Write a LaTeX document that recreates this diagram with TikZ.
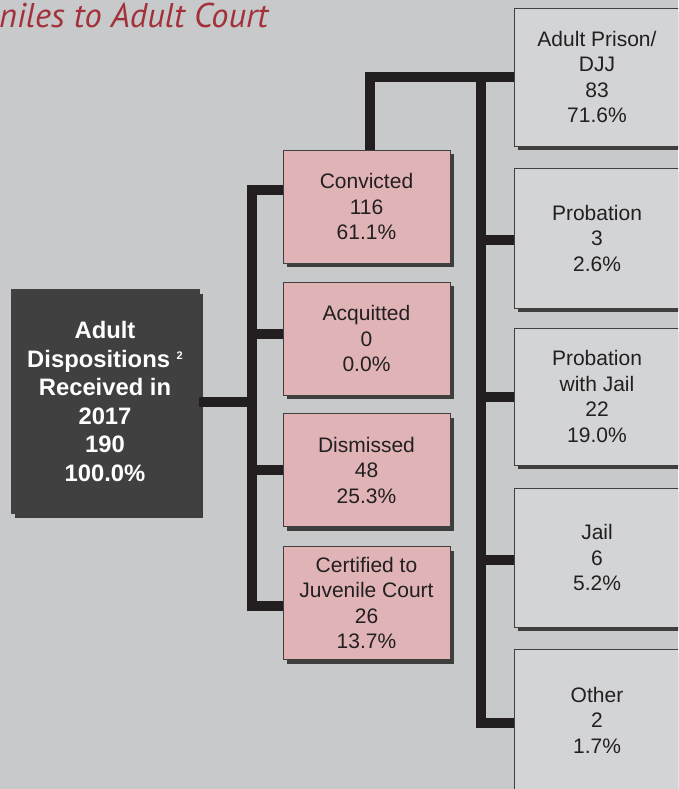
\documentclass[tikz,border=0pt]{standalone}
\usepackage{fontspec}
\setmainfont{Liberation Sans}
\newfontfamily\headfont{PT Sans}
\usetikzlibrary{shadows}
\definecolor{bggray}{HTML}{C8C9CB}
\definecolor{boxgray}{HTML}{D3D4D6}
\definecolor{boxpink}{HTML}{E0B4B6}
\definecolor{boxdark}{HTML}{404040}
\definecolor{barblack}{HTML}{231F20}
\definecolor{headred}{HTML}{A3313A}
\begin{document}
\begin{tikzpicture}[x=1pt,y=-1pt,
  box/.style={draw=black!75,line width=0.9pt,align=center,inner sep=0pt,text=barblack,
    drop shadow={shadow xshift=4pt,shadow yshift=-4pt,fill=black!85,opacity=0.85},
    font=\fontsize{21}{25.5}\selectfont},
  pinkbox/.style={box,fill=boxpink,minimum width=167pt,minimum height=113pt},
  graybox/.style={box,fill=boxgray,minimum width=166pt,minimum height=139pt},
  bar/.style={barblack,line width=10pt}]
 	\useasboundingbox (0,0) rectangle (678,789);
 	\fill [bggray] (0,0) rectangle (678,789);
 	\clip (0,0) rectangle (678,789);
 	% heading, cut at the left edge
 	\node [anchor=base west,inner sep=0pt,text=headred,font=\headfont\itshape\fontsize{34.3}{34.3}\selectfont] (head) at (-1,28) {niles to Adult Court};
 	% left column
 	\node [box,fill=boxdark,text=white,font=\bfseries\fontsize{23.8}{28.5}\selectfont,minimum width=188pt,minimum height=224pt] (disp) at (105,401.5) {Adult\\Dispositions {\fontsize{11}{11}\selectfont\raisebox{8pt}{2}}\\Received in\\2017\\190\\100.0\%};
 	% middle column
 	\node [pinkbox] (conv) at (366.5,206.5) {Convicted\\116\\61.1\%};
 	\node [pinkbox] (acq) at (366.5,338.5) {Acquitted\\0\\0.0\%};
 	\node [pinkbox] (dism) at (366.5,470) {Dismissed\\48\\25.3\%};
 	\node [pinkbox] (cert) at (366.5,603) {Certified to\\Juvenile Court\\26\\13.7\%};
 	% right column
 	\node [graybox,minimum height=138pt] (prison) at (597,77) {Adult Prison/\\DJJ\\83\\71.6\%};
 	\node [graybox,minimum height=140pt] (prob) at (597,238) {Probation\\3\\2.6\%};
 	\node [graybox,minimum height=137pt] (pwj) at (597,396.5) {Probation\\with Jail\\22\\19.0\%};
 	\node [graybox] (jail) at (597,557.5) {Jail\\6\\5.2\%};
 	\node [graybox,minimum height=142pt] (other) at (597,720) {Other\\2\\1.7\%};
 	% connectors
 	\coordinate (lbusB) at (252,606);
 	\coordinate (rbusT) at (481,77);
 	\coordinate (rbusB) at (481,723);
 	\draw [bar] (disp.east) -- (disp.east -| lbusB);
 	\draw [bar] ([yshift=16.5pt]conv.west) -| (lbusB) -- (lbusB -| cert.west);
 	\draw [bar] ([yshift=4.5pt]acq.west) -| (lbusB);
 	\draw [bar] (dism.west) -| (lbusB);
 	\draw [bar] ([xshift=3.5pt]conv.north) |- (prison.west);
 	\draw [bar] (rbusT) -- (rbusB) -- (rbusB -| other.west);
 	\draw [bar] ([yshift=-2pt]prob.west) -| (rbusB);
 	\draw [bar] (pwj.west) -| (rbusB);
 	\draw [bar] ([yshift=-2.5pt]jail.west) -| (rbusB);
\end{tikzpicture}
\end{document}
